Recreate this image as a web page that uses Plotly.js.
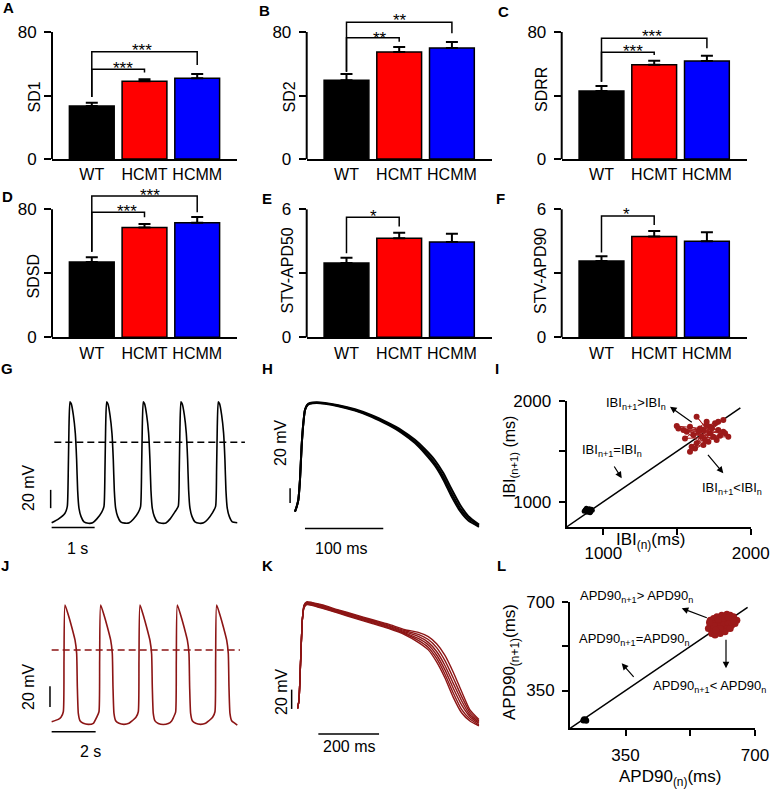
<!DOCTYPE html>
<html><head><meta charset="utf-8">
<script src="https://cdn.plot.ly/plotly-3.0.1.min.js"></script>
<style>body{margin:0;background:#fff}#chart{width:770px;height:792px}</style>
</head><body><div id="chart"></div>
<script>
// ---------------- DATA ----------------
const groups = ['WT', 'HCMT', 'HCMM'];
const SD1_mean = [33.4, 49.0, 50.8],  SD1_sem = [2.1, 1.2, 2.7];
const SD2_mean = [49.6, 67.4, 69.9],  SD2_sem = [3.9, 3.1, 3.8];
const SDRR_mean = [42.8, 59.4, 61.7], SDRR_sem = [3.2, 2.5, 3.3];
const SDSD_mean = [47.0, 68.7, 71.6], SDSD_sem = [3.0, 2.1, 3.6];
const STV50_mean = [3.48, 4.64, 4.47], STV50_sem = [0.25, 0.26, 0.39];
const STV90_mean = [3.58, 4.72, 4.50], STV90_sem = [0.22, 0.26, 0.42];
// significance: [group i, group j, label]
const SD1_sig = [[0, 1, '***'], [0, 2, '***']];
const SD2_sig = [[0, 1, '**'], [0, 2, '**']];
const SDRR_sig = [[0, 1, '***'], [0, 2, '***']];
const SDSD_sig = [[0, 1, '***'], [0, 2, '***']];
const STV50_sig = [[0, 1, '*']];
const STV90_sig = [[0, 1, '*']];

// G: spontaneous APs, WT (time ms, voltage mV)
const G_t = [0, 155, 310,
 364, 387, 403, 426, 457, 504, 550, 581, 604, 635, 682, 752, 852, 953, 1046, 1162,
 1217, 1240, 1256, 1279, 1310, 1357, 1403, 1434, 1457, 1488, 1535, 1605, 1705, 1806, 1899, 2015,
 2069, 2092, 2108, 2131, 2162, 2209, 2255, 2286, 2309, 2340, 2387, 2457, 2557, 2658, 2751, 2867,
 2945, 2968, 2984, 3007, 3038, 3085, 3131, 3162, 3185, 3216, 3263, 3333, 3433, 3534, 3627, 3743,
 3813, 3836, 3852, 3875, 3906, 3953, 3999, 4030, 4053, 4084, 4131, 4201, 4317];
const G_v = [-88, -84, -77.6,
 -70, -30, 17, 44.4, 42, 30, 10, -19, -52, -72, -81, -87, -88.5, -88, -84, -76.5,
 -70, -30, 17, 44.2, 41.8, 29.6, 9.5, -19.5, -52.5, -72, -81, -87, -88.4, -88, -84.2, -76.6,
 -70, -30, 17, 44.4, 42, 30, 10, -19, -52, -72, -81, -87, -88.5, -88.2, -84, -76,
 -70, -31, 16, 44.3, 41.9, 30.2, 10.2, -18.5, -51.5, -71.8, -81, -87, -88.5, -88, -84.3, -76.8,
 -70, -30, 17, 44.4, 42, 30, 10, -19, -52, -72, -81, -87, -88];
const G_thr_t = [62, 4495], G_thr_v = [0, 0];

// H: superimposed single APs, WT
const H_t = [-12.8, -10.6, -8.5, -6.4, -4.3, -2.1, 0, 3.0, 6.4, 14.9, 25.5, 42.6, 63.9, 85.1, 106.4, 123.5, 140.5, 153.3, 166.0, 176.7, 187.3, 198.0, 208.6, 222.2];
const H_v1 = [-93, -86.2, -77.1, -49.9, -4.5, 27.2, 45.4, 52.2, 54.4, 55.3, 54.4, 51.2, 45.4, 37.2, 26.3, 15.9, 2.3, -11.3, -27.2, -45.4, -68, -88.4, -102, -112];
const H_v2 = [-93, -86, -77, -50, -4, 27.5, 45.8, 52.8, 55, 55.8, 55, 52, 46.4, 38.4, 27.8, 17.8, 4.8, -8, -23, -40.5, -62.5, -83.5, -99, -110.5];
const H_v3 = [-93, -86.4, -77.3, -50.2, -5, 26.8, 45, 51.7, 53.8, 54.8, 53.8, 50.5, 44.5, 36.2, 25, 14.3, 0.3, -14, -30.5, -49.5, -72.5, -92, -105, -113.5];

// I: Poincare plot of inter-beat intervals (ms)
const I_wt_x = [898, 880, 915, 905, 870, 925, 890, 910, 885, 900, 875, 920];
const I_wt_y = [911, 925, 900, 930, 905, 915, 895, 890, 935, 920, 915, 925];
const I_hcm_x = [1588,1724,1633,1769,1509,1679,1814,1599,1724,1848,1554,1701,1633,1780,1498,1667,1758,1588,1713,1814,1566,1656,1780,1622,1746,1645,1701,1826,1543,1679,1735,1611,1792,1690];
const I_hcm_y = [1743,1677,1842,1611,1726,1710,1809,1545,1743,1644,1627,1792,1578,1710,1749,1644,1776,1495,1594,1693,1693,1726,1792,1528,1644,1693,1759,1677,1710,1561,1726,1660,1652,1611];
const I_identity = [750, 1930];

// J: spontaneous APs, HCM
const J_t = [0, 303,
 424, 530, 561, 606, 758, 909, 1061, 1136, 1167, 1212, 1288, 1439, 1667, 1894,
 2045, 2151, 2182, 2227, 2379, 2530, 2682, 2757, 2788, 2833, 2909, 3060, 3288, 3515, 3666,
 3833, 3939, 3970, 4015, 4167, 4318, 4470, 4545, 4576, 4621, 4697, 4848, 5076, 5303, 5454,
 5530, 5636, 5667, 5712, 5864, 6015, 6167, 6242, 6273, 6318, 6394, 6545, 6773, 7000, 7151,
 7318, 7424, 7455, 7500, 7652, 7803, 7955, 8030, 8061, 8106, 8182, 8333, 8439];
const J_v = [-69.2, -67,
 -65, -59.6, -9.7, 43.5, 33.8, 22.5, 9.7, -3.2, -35.4, -61.2, -68.3, -70.8, -71.8, -70.8,
 -65, -59.6, -9.7, 43.5, 33.8, 22.5, 9.7, -3.2, -35.4, -61.2, -68.3, -70.8, -71.8, -70.8, -68.3,
 -65, -59.6, -9.7, 43.5, 33.5, 22, 9.2, -3.8, -36, -61.5, -68.5, -71, -72, -71, -68.5,
 -65.5, -60, -10, 43.5, 33.8, 22.5, 9.7, -3.2, -35.4, -61.2, -68.3, -70.8, -71.8, -70.8, -68.3,
 -65, -59.6, -9.7, 43.5, 33.8, 22.5, 9.7, -3.2, -35.4, -61.2, -68.3, -70.8, -72.5];
const J_thr_t = [0, 8560], J_thr_v = [0, 0];

// K: superimposed single APs, HCM
const K_t = [-24.2, -19.8, -14.3, -8.8, -3.3, 5.5, 22, 54.9, 109.8, 164.7, 219.6, 274.5, 329.4, 373.3, 406.3, 433.7, 461.2, 488.6, 516, 543.5, 573.1];
const K_v1 = [-67.4, -58.7, -17.3, 24.2, 36.6, 40.0, 39.4, 36.5, 31.2, 25.9, 20.7, 15.4, 8.8, 1.0, -6.8, -19.3, -36, -56, -72, -80.5, -85.5];
const K_v2 = [-67.4, -58.7, -17.3, 24.2, 37.2, 40.6, 40.0, 37.1, 31.9, 26.6, 21.5, 16.3, 9.9, 3.0, -4.3, -15.7, -32, -51.5, -68.5, -78.5, -84.5];
const K_v3 = [-67.4, -58.7, -17.3, 24.2, 37.8, 41.2, 40.6, 37.8, 32.6, 27.4, 22.3, 17.1, 10.8, 5, -1.7, -12.1, -27.6, -46.6, -63.9, -76, -83];
const K_v4 = [-67.4, -58.7, -17.3, 24.2, 38.4, 41.8, 41.2, 38.5, 33.3, 28.2, 23.1, 18.0, 11.9, 7.1, 1.0, -8.5, -23, -41.5, -59.5, -74, -81.8];
const K_v5 = [-67.4, -58.7, -17.3, 24.2, 39.0, 42.4, 41.8, 39.2, 34.0, 28.9, 23.9, 18.9, 13.0, 9.2, 3.9, -4.5, -18, -36, -55, -71.5, -80.5];
const K_v6 = [-67.4, -58.7, -17.3, 24.2, 39.6, 43.0, 42.4, 39.9, 34.7, 29.7, 24.7, 19.8, 14.1, 11.3, 6.9, -0.5, -12.5, -30, -50, -69, -79];

// L: Poincare plot of APD90 (ms)
const L_wt_x = [236, 242, 240, 238, 244];
const L_wt_y = [231, 235, 233, 236, 230];
const L_hcm_x = [579,588,597,610,624,633,642,651,646,633,619,606,592,579,574,588,601,615,628,637,624,610,597,583,592,606,619,633,615,601,590,577,642,628,606,594];
const L_hcm_y = [629,636,643,649,653,649,643,629,616,623,629,623,616,609,596,596,603,609,616,609,596,589,583,576,570,576,583,596,636,632,605,620,627,640,596,589];
const L_identity = [200, 680];

// scale bars (mV / ms)
const G_sbar_v = [-72, -52], G_sbar_t = [0, 1000];
const H_sbar_v = [-81, -61], H_sbar_t = [0, 100];
const J_sbar_v = [-55, -35], J_sbar_t = [0, 2000];
const K_sbar_v = [-68, -48], K_sbar_t = [44, 244];

// ---------------- LAYOUT HELPERS ----------------
const W = 770, Hh = 792;
const FONT = 'Liberation Sans, Arial, Helvetica, sans-serif';
const DARKRED = '#8c1515';
const xd = (a, b) => [a / W, b / W];
const yd = (top, bot) => [1 - bot / Hh, 1 - top / Hh];
const ax = k => (k === 1 ? '' : String(k));
const traces = [];
const layout = {
  width: W, height: Hh, margin: {l: 0, r: 0, t: 0, b: 0},
  paper_bgcolor: '#fff', plot_bgcolor: 'rgba(0,0,0,0)', showlegend: false,
  hovermode: false, font: {family: FONT, size: 16, color: '#000'},
  annotations: [], shapes: []
};
function txt(px, py, text, size, opts) {
  layout.annotations.push(Object.assign({
    xref: 'paper', yref: 'paper', x: px / W, y: 1 - py / Hh, text: text,
    showarrow: false, xanchor: 'center', yanchor: 'middle',
    font: {family: FONT, size: size, color: '#000'}
  }, opts || {}));
}
function arrow(hx, hy, tx, ty) {
  layout.annotations.push({
    xref: 'paper', yref: 'paper', x: hx / W, y: 1 - hy / Hh,
    axref: 'pixel', ayref: 'pixel', ax: tx - hx, ay: ty - hy,
    text: '', showarrow: true, arrowhead: 2, arrowsize: 1.1, arrowwidth: 1.2, arrowcolor: '#000'
  });
}

// ---------------- BAR PANELS ----------------
const barColors = ['#000000', '#ff0000', '#0000ff'];
const barPanels = [
  {k: 1, mean: SD1_mean, sem: SD1_sem, sig: SD1_sig, title: 'SD1', tpx: [33.5, 97],
   x: [52, 237], y: [12, 159], top: 92.6, ticks: [0, 40, 80], spine: 80,
   brk: [[56.6, 39, 54.5, 123, 63.3], [67.6, 39, 59.2, 142, 45.7]]},
  {k: 2, mean: SD2_mean, sem: SD2_sem, sig: SD2_sig, title: 'SD2', tpx: [288.5, 97],
   x: [306.7, 491.7], y: [12, 159], top: 92.6, ticks: [0, 40, 80], spine: 80,
   brk: [[76.4, 55, 73.9, 380, 33.3], [86.1, 55, 79.2, 400, 15]]},
  {k: 3, mean: SDRR_mean, sem: SDRR_sem, sig: SDRR_sig, title: 'SDRR', tpx: [541, 90],
   x: [561.7, 746.7], y: [12, 159], top: 92.6, ticks: [0, 40, 80], spine: 80,
   brk: [[67.2, 48.7, 65.5, 633.3, 46.7], [76, 48.7, 69.7, 651.7, 31.7]]},
  {k: 4, mean: SDSD_mean, sem: SDSD_sem, sig: SDSD_sig, title: 'SDSD', tpx: [33.5, 277],
   x: [52, 237], y: [185, 337.3], top: 95.19, ticks: [0, 40, 80], spine: 80,
   brk: [[78.1, 53.5, 75, 126.7, 206.7], [88.3, 53.5, 78.1, 150, 190]]},
  {k: 5, mean: STV50_mean, sem: STV50_sem, sig: STV50_sig, title: 'STV-APD50', tpx: [287.5, 271],
   x: [306.7, 491.7], y: [185, 337.3], top: 7.14, ticks: [0, 3, 6], spine: 6,
   brk: [[5.63, 3.94, 5.19, 373.3, 211.7]]},
  {k: 6, mean: STV90_mean, sem: STV90_sem, sig: STV90_sig, title: 'STV-APD90', tpx: [541, 271],
   x: [561.7, 746.7], y: [185, 337.3], top: 7.14, ticks: [0, 3, 6], spine: 6,
   brk: [[5.69, 3.98, 5.26, 626.7, 210]]}
];
const gx = groups.map((_, i) => i);
barPanels.forEach(p => {
  const s = ax(p.k);
  traces.push({
    type: 'bar', x: gx, y: p.mean, xaxis: 'x' + s, yaxis: 'y' + s, width: 0.85,
    marker: {color: barColors, line: {color: '#000', width: 1.5}},
    error_y: {type: 'data', symmetric: false, array: p.sem, arrayminus: p.sem.map(() => 0),
              color: '#000', thickness: 2, width: 6},
    hoverinfo: 'skip'
  });
  p.sig.forEach((sg, j) => {
    const b = p.brk[j];
    traces.push({
      type: 'scatter', mode: 'lines', x: [sg[0], sg[0], sg[1], sg[1]], y: [b[1], b[0], b[0], b[2]],
      xaxis: 'x' + s, yaxis: 'y' + s, line: {color: '#000', width: 1.5}, hoverinfo: 'skip'
    });
    txt(b[3], b[4] + 5, sg[2], 17);
  });
  layout['xaxis' + s] = {
    domain: xd(p.x[0], p.x[1]), range: [-0.755, 2.755], anchor: 'y' + s,
    tickvals: gx, ticktext: groups, ticks: '', showline: true, linewidth: 2, linecolor: '#000',
    showgrid: false, zeroline: false, tickfont: {family: FONT, size: 16, color: '#000'},
    ticklabelstandoff: 0, fixedrange: true
  };
  layout['yaxis' + s] = {
    domain: yd(p.y[0], p.y[1]), range: [0, p.top], anchor: 'x' + s,
    tickvals: p.ticks, ticktext: [String(p.ticks[0]), '', String(p.ticks[2])],
    ticks: 'outside', ticklen: 7, tickwidth: 2, tickcolor: '#000', showline: false,
    showgrid: false, zeroline: false, tickfont: {family: FONT, size: 17, color: '#000'},
    ticklabelstandoff: 4, fixedrange: true
  };
  layout.shapes.push({type: 'line', xref: 'x' + s + ' domain', yref: 'y' + s + ' domain',
    x0: 0, x1: 0, y0: 0, y1: p.spine / p.top, line: {color: '#000', width: 2}});
  txt(p.tpx[0], p.tpx[1], p.title, 16, {textangle: -90});
});

// ---------------- TRACE PANELS (G, H, J, K) ----------------
function hiddenAxes(k, xpx, ypx, xr, yr) {
  const s = ax(k);
  layout['xaxis' + s] = {domain: xd(xpx[0], xpx[1]), range: xr, visible: false, anchor: 'y' + s, fixedrange: true};
  layout['yaxis' + s] = {domain: yd(ypx[0], ypx[1]), range: yr, visible: false, anchor: 'x' + s, fixedrange: true};
}
function line(k, x, y, color, width, extra) {
  const s = ax(k);
  traces.push(Object.assign({type: 'scatter', mode: 'lines', x: x, y: y, xaxis: 'x' + s, yaxis: 'y' + s,
    line: {color: color, width: width}, hoverinfo: 'skip'}, extra || {}));
}
const smooth = {shape: 'spline', smoothing: 0.5};
// G
hiddenAxes(7, [40, 250], [380, 540], [-271, 4613], [-106.8, 68.1]);
line(7, G_t, G_v, '#000', 1.6, {line: Object.assign({color: '#000', width: 1.6}, smooth)});
line(7, G_thr_t, G_thr_v, '#000', 1.5, {line: {color: '#000', width: 1.5, dash: '7px,4px'}});
line(7, [-23, -23], G_sbar_v, '#000', 1.5);
line(7, G_sbar_t, [-93, -93], '#000', 1.5);
txt(28, 488, '20 mV', 16, {textangle: -90});
txt(77, 548, '1 s', 16);
// H
hiddenAxes(8, [285, 490], [380, 540], [-25.5, 236.3], [-131.5, 86.2]);
[H_v1, H_v2, H_v3].forEach(v => line(8, H_t, v, '#000', 2, {line: Object.assign({color: '#000', width: 2}, smooth)}));
line(8, [-19, -19], H_sbar_v, '#000', 1.5);
line(8, H_sbar_t, [-116, -116], '#000', 1.5);
txt(280, 443, '20 mV', 16, {textangle: -90});
txt(341, 548, '100 ms', 16);
// J
hiddenAxes(10, [40, 250], [580, 740], [-530, 9017], [-86.9, 67.6]);
line(10, J_t, J_v, DARKRED, 1.6, {line: Object.assign({color: DARKRED, width: 1.6}, smooth)});
line(10, J_thr_t, J_thr_v, DARKRED, 1.5, {line: {color: DARKRED, width: 1.5, dash: '7px,4px'}});
line(10, [-76, -76], J_sbar_v, '#000', 1.5);
line(10, J_sbar_t, [-79, -79], '#000', 1.5);
txt(28, 687, '20 mV', 16, {textangle: -90});
txt(90, 751, '2 s', 16);
// K
hiddenAxes(11, [285, 490], [580, 740], [-65.9, 609.6], [-100.2, 65.6]);
[K_v1, K_v2, K_v3, K_v4, K_v5, K_v6].forEach(v => line(11, K_t, v, DARKRED, 1.4, {line: Object.assign({color: DARKRED, width: 1.4}, smooth)}));
line(11, [-44, -44], K_sbar_v, '#000', 1.5);
line(11, K_sbar_t, [-94, -94], '#000', 1.5);
txt(281, 692, '20 mV', 16, {textangle: -90});
txt(349, 746, '200 ms', 16);

// ---------------- POINCARE PANELS (I, L) ----------------
function poincareAxes(k, xpx, ypx, r, tv) {
  const s = ax(k);
  const common = {range: r, tickvals: tv, ticktext: [String(tv[0]), '', String(tv[2])],
    ticks: 'outside', ticklen: 6, tickwidth: 2, tickcolor: '#000', showline: true, linewidth: 2,
    linecolor: '#000', showgrid: false, zeroline: false, fixedrange: true,
    tickfont: {family: FONT, size: 17, color: '#000'}, ticklabelstandoff: 4};
  layout['xaxis' + s] = Object.assign({domain: xd(xpx[0], xpx[1]), anchor: 'y' + s}, common);
  layout['yaxis' + s] = Object.assign({domain: yd(ypx[0], ypx[1]), anchor: 'x' + s}, common);
}
// I
poincareAxes(9, [566.5, 750.7], [400.7, 527], [750, 2000], [1000, 1500, 2000]);
line(9, I_identity, I_identity, '#000', 1.5);
traces.push({type: 'scatter', mode: 'lines+markers', x: I_wt_x, y: I_wt_y, xaxis: 'x9', yaxis: 'y9',
  line: {color: '#000', width: 1}, marker: {color: '#000', size: 5}, hoverinfo: 'skip'});
traces.push({type: 'scatter', mode: 'lines+markers', x: I_hcm_x, y: I_hcm_y, xaxis: 'x9', yaxis: 'y9',
  line: {color: '#a52020', width: 1}, marker: {color: '#9c1a1a', size: 6}, hoverinfo: 'skip'});
txt(510, 457, 'IBI<sub>(n+1)</sub> (ms)', 16, {textangle: -90});
txt(650, 541, 'IBI<sub>(n)</sub>(ms)', 17);
txt(636, 404, 'IBI<sub>n+1</sub>&gt;IBI<sub>n</sub>', 13);
txt(612, 450, 'IBI<sub>n+1</sub>=IBI<sub>n</sub>', 13);
txt(732, 488, 'IBI<sub>n+1</sub>&lt;IBI<sub>n</sub>', 13);
arrow(670, 406.7, 693.3, 423.3);
arrow(621.7, 478.3, 613.3, 465);
arrow(723.3, 473.3, 706.7, 453.3);
// L
poincareAxes(12, [570, 755], [602.3, 728.3], [200, 700], [350, 525, 700]);
line(12, L_identity, L_identity, '#000', 1.5);
traces.push({type: 'scatter', mode: 'markers', x: L_wt_x, y: L_wt_y, xaxis: 'x12', yaxis: 'y12',
  marker: {color: '#000', size: 6}, hoverinfo: 'skip'});
traces.push({type: 'scatter', mode: 'markers', x: L_hcm_x, y: L_hcm_y, xaxis: 'x12', yaxis: 'y12',
  marker: {color: '#9c1a1a', size: 7}, hoverinfo: 'skip'});
txt(511, 662, 'APD90<sub>(n+1)</sub>(ms)', 17, {textangle: -90});
txt(670, 778, 'APD90<sub>(n)</sub>(ms)', 17);
txt(636, 596, 'APD90<sub>n+1</sub>&gt; APD90<sub>n</sub>', 13);
txt(634, 639, 'APD90<sub>n+1</sub>=APD90<sub>n</sub>', 13);
txt(709, 686, 'APD90<sub>n+1</sub>&lt; APD90<sub>n</sub>', 13);
arrow(681.7, 608.3, 708.3, 618.3);
arrow(621.7, 663.3, 635, 678.3);
arrow(726, 668.3, 726, 638.3);

// ---------------- PANEL LETTERS ----------------
[['A', 8, 8], ['B', 264, 10], ['C', 503, 12], ['D', 7, 197], ['E', 267, 198], ['F', 500, 198],
 ['G', 7, 368], ['H', 267, 368], ['I', 497, 368], ['J', 5, 565], ['K', 267, 565], ['L', 501, 565]]
 .forEach(l => txt(l[1], l[2], '<b>' + l[0] + '</b>', 15));

Plotly.newPlot('chart', traces, layout, {staticPlot: true, displayModeBar: false});
</script>
</body></html>
